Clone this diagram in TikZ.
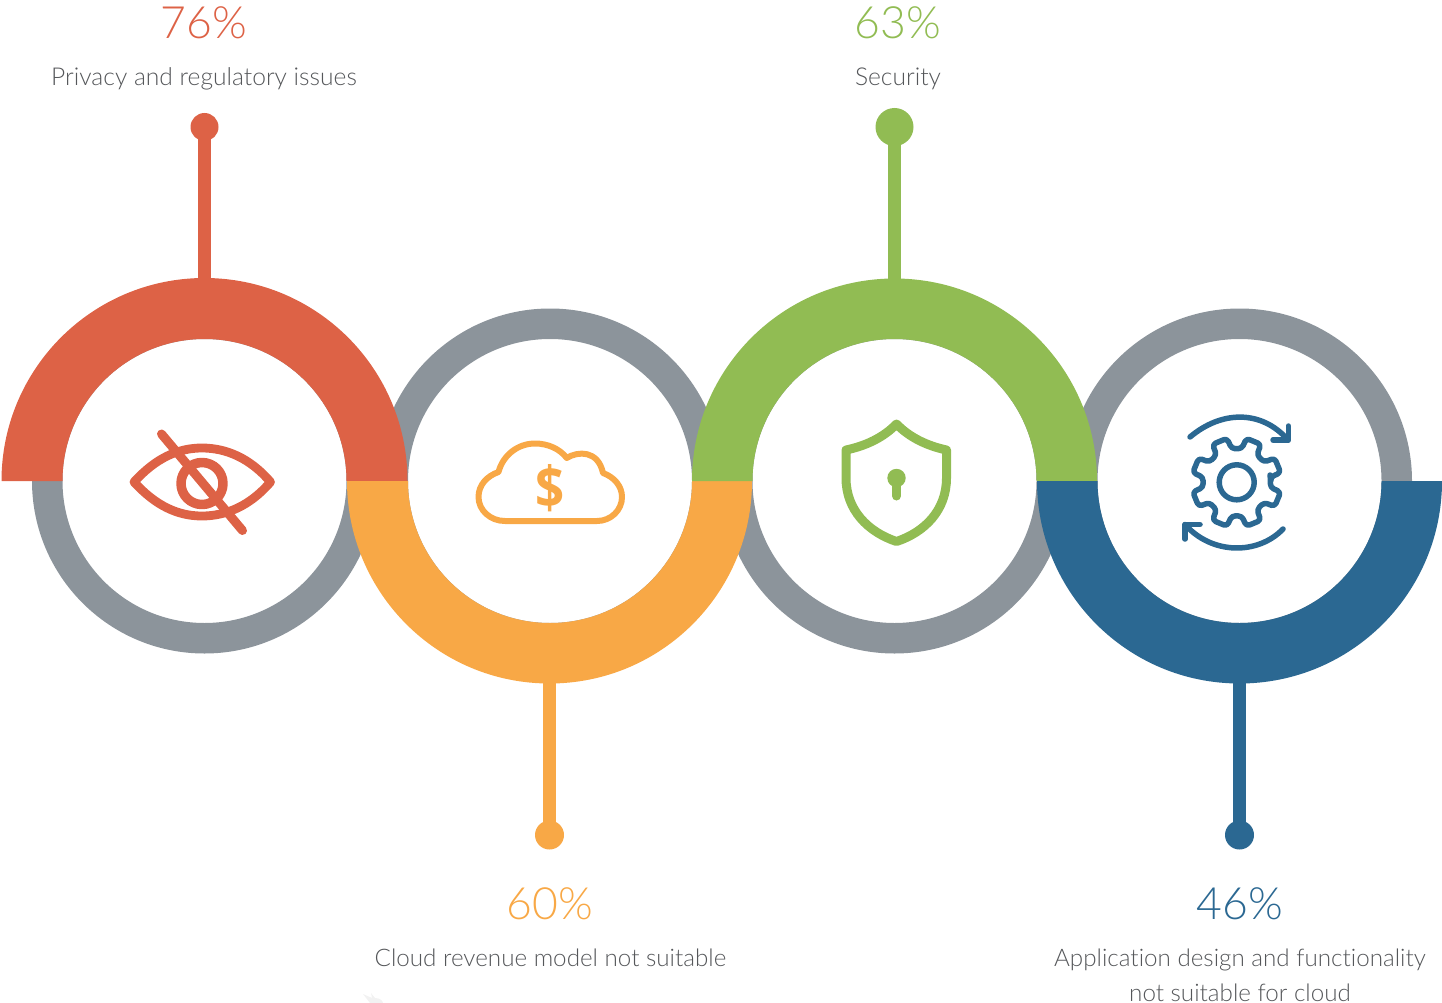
\documentclass[tikz,border=0pt]{standalone}
\usepackage{fontspec}
\setmainfont{Lato}[UprightFont=* Light,BoldFont=* Bold,Ligatures=NoCommon]
\newfontfamily\dollarfont{Open Sans}
\definecolor{cred}{HTML}{DD6246}
\definecolor{corange}{HTML}{F8A846}
\definecolor{cgreen}{HTML}{91BC53}
\definecolor{cblue}{HTML}{2B6892}
\definecolor{cgrey}{HTML}{8C949B}
\definecolor{ctext}{HTML}{55575A}
\tikzset{
  pct/.style={anchor=base,inner sep=0pt,font=\fontsize{44.5}{44.5}\selectfont},
  lbl/.style={anchor=base,inner sep=0pt,text=ctext,font=\fontsize{24.6}{24.6}\selectfont},
  lblb/.style={anchor=base,inner sep=0pt,text=ctext,font=\fontsize{24.2}{24.2}\selectfont},
  dot/.style={circle,inner sep=0pt,minimum size=#1},
  stem/.style={line width=13pt},
  icon/.style={line width=#1,line join=round,line cap=round,fill=none},
}
\begin{document}
\begin{tikzpicture}[x=1pt,y=1pt]
\useasboundingbox (0,0) rectangle (1442,-1003);
% grey rings
\foreach \cx in {204.5,550,894.5,1239.5}{
  \fill[cgrey,even odd rule] (\cx,-481) circle (172.5) (\cx,-481) circle (142);
}
% pins
\node[dot=28,fill=cred] (d1) at (204.5,-127) {};
\node[dot=38,fill=cgreen] (d3) at (894.5,-127) {};
\node[dot=29,fill=corange] (d2) at (549.5,-835) {};
\node[dot=29,fill=cblue] (d4) at (1239.5,-835) {};
\coordinate (r1) at (204.5,-300);
\coordinate (r2) at (549.5,-660);
\coordinate (r3) at (894.5,-300);
\coordinate (r4) at (1239.5,-660);
\draw[stem,cred] (d1.center) -- (r1);
\draw[stem,corange] (d2.center) -- (r2);
\draw[stem,cgreen] (d3.center) -- (r3);
\draw[stem,cblue] (d4.center) -- (r4);
% half rings
\fill[cred] (1.5,-481) arc (180:0:203) -- (346.5,-481) arc (0:180:142) -- cycle;
\fill[corange] (347,-481) arc (180:360:202.5) -- (692,-481) arc (360:180:142) -- cycle;
\fill[cgreen] (692,-481) arc (180:0:202.5) -- (1036.5,-481) arc (0:180:142) -- cycle;
\fill[cblue] (1037,-481) arc (180:360:202.5) -- (1381.5,-481) arc (360:180:142) -- cycle;
% eye icon
\draw[icon=8.8pt,cred] (134,-482) .. controls (156,-458) and (178,-448) .. (202,-448)
   .. controls (226,-448) and (250,-458) .. (270.5,-482)
   .. controls (250,-506) and (226,-516) .. (202,-516)
   .. controls (178,-516) and (156,-506) .. (134,-482) -- cycle;
\draw[icon=9.5pt,cred] (202,-483.5) circle (21);
\draw[icon=9pt,cred] (161.5,-434) -- (242.5,-530.5);
% cloud icon
\draw[icon=6pt,corange] (505,-521)
   .. controls (490,-521) and (478.5,-510) .. (478.5,-497)
   .. controls (478.5,-485) and (487,-476) .. (498.5,-472)
   .. controls (503,-455) and (518,-443.5) .. (535,-443.5)
   .. controls (548,-443.5) and (560,-449) .. (566.7,-458)
   .. controls (578,-451) and (598,-450) .. (603,-473)
   .. controls (614,-477) and (622,-486) .. (622,-497)
   .. controls (622,-510) and (611,-521) .. (597,-521) -- cycle;
\node[inner sep=0pt,xscale=0.88,text=corange,font=\dollarfont\fontsize{58}{58}\bfseries\selectfont] (dollar) at (550,-488) {\$};
% shield icon
\draw[icon=9pt,cgreen] (896.5,-424)
   .. controls (910,-438) and (928,-446) .. (946.5,-450)
   -- (946.5,-478)
   .. controls (946.5,-510) and (925,-532) .. (896.5,-541.5)
   .. controls (868,-532) and (846,-510) .. (846,-478)
   -- (846,-450)
   .. controls (865,-446) and (883,-438) .. (896.5,-424) -- cycle;
\fill[cgreen] (896.5,-478) circle (9.2);
\draw[line width=9pt,line cap=round,cgreen] (896.5,-480) -- (896.5,-496);
% gear icon
\begin{scope}[shift={(1236.7,-482.3)}]
  \draw[icon=5.5pt,cblue] (0,0) circle (17.5);
  \draw[cblue,line width=5.5pt,line join=round,rounded corners=3.5pt]
    (6.5:34)
    \foreach \a in {22.5,67.5,...,337.5}{
      -- ({\a-14}:34) -- ({\a-10}:45) -- ({\a+10}:45) -- ({\a+14}:34)
    } -- cycle;
\end{scope}
% rotation arrows
\draw[icon=5.5pt,cblue] (1190,-437) .. controls (1222,-410) and (1262,-410) .. (1288,-440);
\draw[icon=5.5pt,cblue] (1273,-440) -- (1288.3,-440) -- (1288.3,-426);
\draw[icon=5.5pt,cblue] (1283,-529) .. controls (1258,-555) and (1212,-555) .. (1185,-524.5);
\draw[icon=5.5pt,cblue] (1200,-524.5) -- (1185,-524.5) -- (1185,-539);
% faint speck
\fill[black!5] (363,-994) -- (372,-998) -- (371,-993) -- (375,-998) .. controls (380,-998) and (383,-1001) .. (383,-1003) -- (370,-1003) -- cycle;
% texts
\node[pct,text=cred] (t1) at (204,-38.5) {76\%};
\node[lbl] (l1) at (204,-85.5) {Privacy and regulatory issues};
\node[pct,text=cgreen] (t3) at (898,-38.5) {63\%};
\node[lbl] (l3) at (898,-85.5) {Security};
\node[pct,text=corange] (t2) at (550,-919) {60\%};
\node[lblb] (l2) at (550.5,-966) {Cloud revenue model not suitable};
\node[pct,text=cblue] (t4) at (1240,-919) {46\%};
\node[lblb] (l4) at (1240,-966) {Application design and functionality};
\node[lblb] (l5) at (1240,-1001) {not suitable for cloud};
\end{tikzpicture}
\end{document}
